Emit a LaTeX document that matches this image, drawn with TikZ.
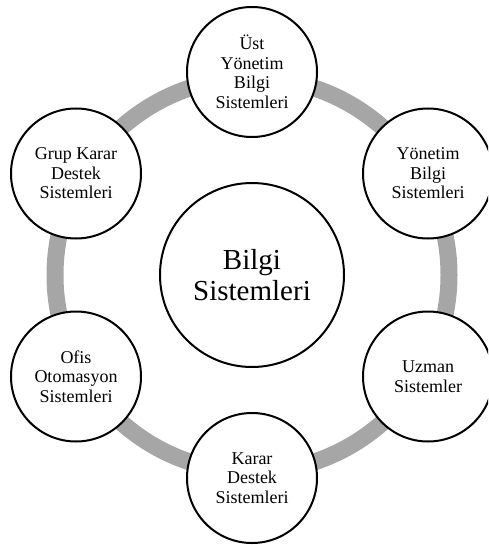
\documentclass[tikz,border=0pt]{standalone}
\usepackage{fontspec}
\setmainfont{Liberation Serif}
\definecolor{ringgray}{RGB}{166,166,166}
\begin{document}
\begin{tikzpicture}[x=1pt,y=-1pt,
  bubble/.style={circle, draw=black, line width=2pt, fill=white, minimum size=130pt, inner sep=0pt, align=center, font=\fontsize{18}{19.5}\selectfont},
  hub/.style={circle, draw=black, line width=2pt, fill=white, minimum size=184pt, inner sep=0pt, align=center, font=\fontsize{29}{31}\selectfont},
  ringline/.style={draw=ringgray, line width=17pt}]
\useasboundingbox (0,0) rectangle (488,545);
\clip (0,0) rectangle (488,545);
\coordinate (c) at (252,275);
\path[ringline] (c) circle[radius=197pt];
\node[hub] (hubnode) at (c) {Bilgi\\Sistemleri};
\node[bubble] (n1) at (252,72) {Üst\\Yönetim\\Bilgi\\Sistemleri};
\node[bubble] (n2) at (428,173.5) {Yönetim\\Bilgi\\Sistemleri};
\node[bubble] (n3) at (428,376.5) {Uzman\\Sistemler};
\node[bubble] (n4) at (252,478) {Karar\\Destek\\Sistemleri};
\node[bubble] (n5) at (76,376.5) {Ofis\\Otomasyon\\Sistemleri};
\node[bubble] (n6) at (76,173.5) {Grup Karar\\Destek\\Sistemleri};
\end{tikzpicture}
\end{document}
